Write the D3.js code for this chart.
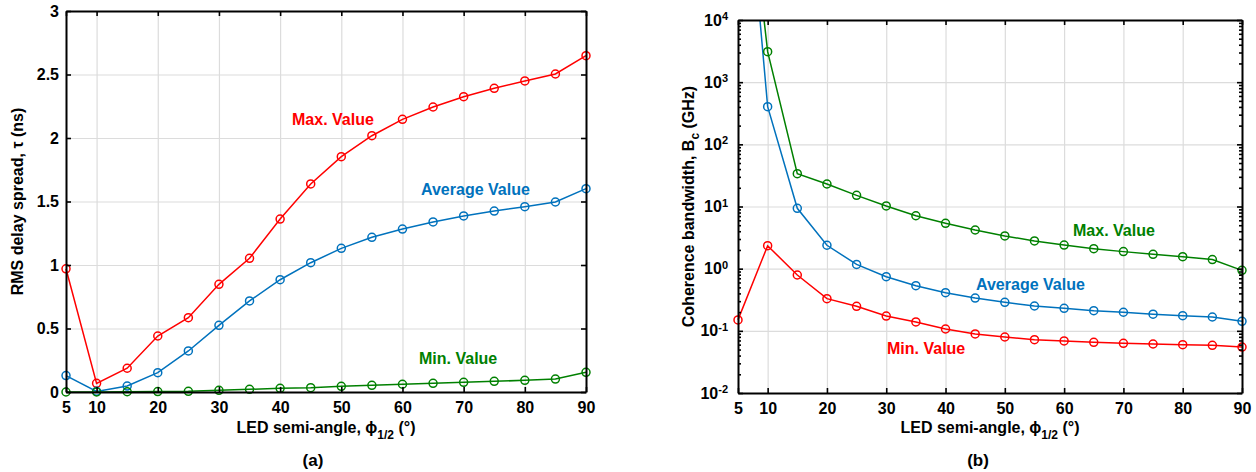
<!DOCTYPE html>
<html lang="en">
<head>
<meta charset="utf-8">
<title>RMS delay spread and coherence bandwidth</title>
<style>
  body { margin: 0; background: #fff; }
  text { font-family: Arial, "Liberation Sans", sans-serif; font-weight: bold; }
</style>
</head>
<body>
<script src="https://d3js.org/d3.v7.min.js"></script>
<script>
// LED semi-angle (degrees)
var angles = [5, 10, 15, 20, 25, 30, 35, 40, 45, 50, 55, 60, 65, 70, 75, 80, 85, 90];

// (a) RMS delay spread, ns
var tauMax = [0.97, 0.068, 0.187, 0.441, 0.585, 0.848, 1.053, 1.362, 1.638, 1.853, 2.018, 2.147, 2.244, 2.325, 2.391, 2.449, 2.504, 2.648];
var tauAvg = [0.129, 0.005, 0.047, 0.152, 0.323, 0.525, 0.717, 0.884, 1.018, 1.131, 1.218, 1.283, 1.339, 1.386, 1.425, 1.459, 1.496, 1.601];
var tauMin = [0.0, 0.0, 0.002, 0.003, 0.005, 0.013, 0.021, 0.029, 0.034, 0.045, 0.053, 0.061, 0.068, 0.076, 0.084, 0.092, 0.102, 0.155];

// (b) coherence bandwidth, GHz
var bcMax = [5e7, 3090, 33.7, 23.0, 15.1, 10.2, 7.1, 5.36, 4.19, 3.36, 2.79, 2.40, 2.10, 1.88, 1.70, 1.56, 1.40, 0.94];
var bcAvg = [1e8, 403, 9.35, 2.38, 1.17, 0.743, 0.532, 0.411, 0.337, 0.288, 0.251, 0.230, 0.211, 0.199, 0.185, 0.175, 0.167, 0.142];
var bcMin = [0.150, 2.34, 0.791, 0.329, 0.248, 0.173, 0.139, 0.107, 0.089, 0.0796, 0.0721, 0.0687, 0.0654, 0.0630, 0.0614, 0.0598, 0.0585, 0.0549];

var xTicks = [5, 10, 20, 30, 40, 50, 60, 70, 80, 90];
var tauTicks = [0, 0.5, 1, 1.5, 2, 2.5, 3];
var bcExps = [-2, -1, 0, 1, 2, 3, 4];

var RED = "#ff0000", BLUE = "#0072bd", GREEN = "#008000";
var FS = "16px";

var svg = d3.select("body").append("svg")
  .attr("width", 1256)
  .attr("height", 472);

function panel(opt) {
  var x = d3.scaleLinear().domain([5, 90]).range([opt.left, opt.right]);
  var y = opt.y;
  var g = svg.append("g");
  var w = opt.right - opt.left, h = opt.bottom - opt.top;

  // grid
  g.append("g")
    .attr("transform", "translate(0," + opt.bottom + ")")
    .call(d3.axisBottom(x).tickValues(xTicks).tickSize(-h).tickFormat(""))
    .call(s => s.select(".domain").remove())
    .selectAll("line").attr("stroke", "#dcdcdc").attr("stroke-width", 1.2);
  g.append("g")
    .attr("transform", "translate(" + opt.left + ",0)")
    .call(d3.axisLeft(y).tickValues(opt.gridValues).tickSize(-w).tickFormat(""))
    .call(s => s.select(".domain").remove())
    .selectAll("line").attr("stroke", "#dcdcdc").attr("stroke-width", 1.2);

  // series: lines clipped to the y range, markers drawn whole
  var clipId = "clip" + opt.id;
  svg.append("clipPath").attr("id", clipId).append("rect")
    .attr("x", opt.left - 10).attr("y", opt.top).attr("width", w + 20).attr("height", h + 10);
  var lines = g.append("g").attr("clip-path", "url(#" + clipId + ")");
  var dom = y.domain();
  var line = d3.line().x((d, i) => x(angles[i])).y(d => y(d));
  opt.series.forEach(function (s) {
    lines.append("path")
      .attr("d", line(s.values))
      .attr("fill", "none")
      .attr("stroke", s.color)
      .attr("stroke-width", 1.5);
    g.selectAll(null)
      .data(s.values.map((v, i) => [angles[i], v]).filter(p => p[1] <= dom[1]))
      .enter().append("circle")
      .attr("cx", d => x(d[0]))
      .attr("cy", d => y(d[1]))
      .attr("r", 4)
      .attr("fill", "none")
      .attr("stroke", s.color)
      .attr("stroke-width", 1.5);
    g.append("text")
      .attr("x", s.lx).attr("y", s.ly).attr("dy", "0.35em")
      .attr("fill", s.color)
      .style("font-size", FS)
      .text(s.label);
  });

  // axes (ticks inward)
  var ax = g.append("g").attr("class", "axes");
  ax.append("g")
    .attr("transform", "translate(0," + opt.bottom + ")")
    .call(d3.axisBottom(x).tickValues(xTicks).tickSize(-5).tickSizeOuter(0).tickPadding(10));
  ax.append("g")
    .attr("transform", "translate(0," + opt.top + ")")
    .call(d3.axisTop(x).tickValues(xTicks).tickSize(-5).tickSizeOuter(0).tickFormat(""));
  var left = ax.append("g")
    .attr("transform", "translate(" + opt.left + ",0)")
    .call(d3.axisLeft(y).tickValues(opt.tickValues).tickSize(-5).tickSizeOuter(0)
      .tickPadding(opt.yPad).tickFormat(opt.fmt));
  ax.append("g")
    .attr("transform", "translate(" + opt.right + ",0)")
    .call(d3.axisRight(y).tickValues(opt.tickValues).tickSize(-5).tickSizeOuter(0).tickFormat(""));
  if (opt.minor) {
    ax.append("g")
      .attr("transform", "translate(" + opt.left + ",0)")
      .call(d3.axisLeft(y).tickValues(opt.minor).tickSize(-3).tickFormat(""))
      .call(s => s.select(".domain").remove());
    ax.append("g")
      .attr("transform", "translate(" + opt.right + ",0)")
      .call(d3.axisRight(y).tickValues(opt.minor).tickSize(-3).tickFormat(""))
      .call(s => s.select(".domain").remove());
  }
  ax.selectAll(".domain").attr("stroke", "#000").attr("stroke-width", 2);
  ax.selectAll(".tick line").attr("stroke", "#000").attr("stroke-width", 1.6);
  ax.selectAll(".tick text").attr("fill", "#000")
    .style("font-size", FS).style("font-family", "Arial, 'Liberation Sans', sans-serif")
    .style("font-weight", "bold");
  if (opt.sup) {
    left.selectAll(".tick text").each(function (d) {
      var t = d3.select(this);
      t.text("10");
      t.append("tspan").attr("dy", "-0.5em").style("font-size", "11px")
        .text(Math.round(Math.log10(d)));
    });
  }

  // titles
  var xt = g.append("text")
    .attr("x", (opt.left + opt.right) / 2).attr("y", 433)
    .attr("text-anchor", "middle").style("font-size", FS);
  xt.append("tspan").text("LED semi-angle, \u03d5");
  xt.append("tspan").attr("dy", 6).style("font-size", "12px").text("1/2");
  xt.append("tspan").attr("dy", -6).text(" (\u00b0)");

  var yt = g.append("text")
    .attr("transform", "translate(" + opt.ytx + "," + ((opt.top + opt.bottom) / 2) + ") rotate(-90)")
    .attr("text-anchor", "middle").attr("dy", "0.35em").style("font-size", FS);
  opt.ytitle(yt);

  g.append("text")
    .attr("x", opt.capX).attr("y", 466)
    .attr("text-anchor", "middle").style("font-size", "17px")
    .text(opt.caption);
}

// (a)
panel({
  id: "a", left: 66, right: 586, top: 11, bottom: 392,
  y: d3.scaleLinear().domain([0, 3]).range([392, 11]),
  gridValues: tauTicks, tickValues: tauTicks, yPad: 7,
  fmt: d => d3.format("")(d),
  series: [
    { values: tauMax, color: RED, label: "Max. Value", lx: 292, ly: 119 },
    { values: tauAvg, color: BLUE, label: "Average Value", lx: 421, ly: 189 },
    { values: tauMin, color: GREEN, label: "Min. Value", lx: 419, ly: 358 }
  ],
  ytx: 17,
  ytitle: t => t.text("RMS delay spread, \u03c4 (ns)"),
  capX: 313, caption: "(a)"
});

// (b)
var bcMajor = bcExps.map(e => Math.pow(10, e));
var bcMinor = [];
bcExps.slice(0, -1).forEach(e => { for (var k = 2; k <= 9; k++) bcMinor.push(k * Math.pow(10, e)); });
panel({
  id: "b", left: 738, right: 1242, top: 20, bottom: 393,
  y: d3.scaleLog().domain([1e-2, 1e4]).range([393, 20]),
  gridValues: bcMajor, tickValues: bcMajor, minor: bcMinor, yPad: 10, sup: true,
  fmt: d => "10",
  series: [
    { values: bcMax, color: GREEN, label: "Max. Value", lx: 1073, ly: 230 },
    { values: bcAvg, color: BLUE, label: "Average Value", lx: 976, ly: 284 },
    { values: bcMin, color: RED, label: "Min. Value", lx: 887, ly: 348 }
  ],
  ytx: 688,
  ytitle: function (t) {
    t.append("tspan").text("Coherence bandwidth, B");
    t.append("tspan").attr("dy", 5).style("font-size", "12px").text("c");
    t.append("tspan").attr("dy", -5).text(" (GHz)");
  },
  capX: 978, caption: "(b)"
});
</script>
</body>
</html>
